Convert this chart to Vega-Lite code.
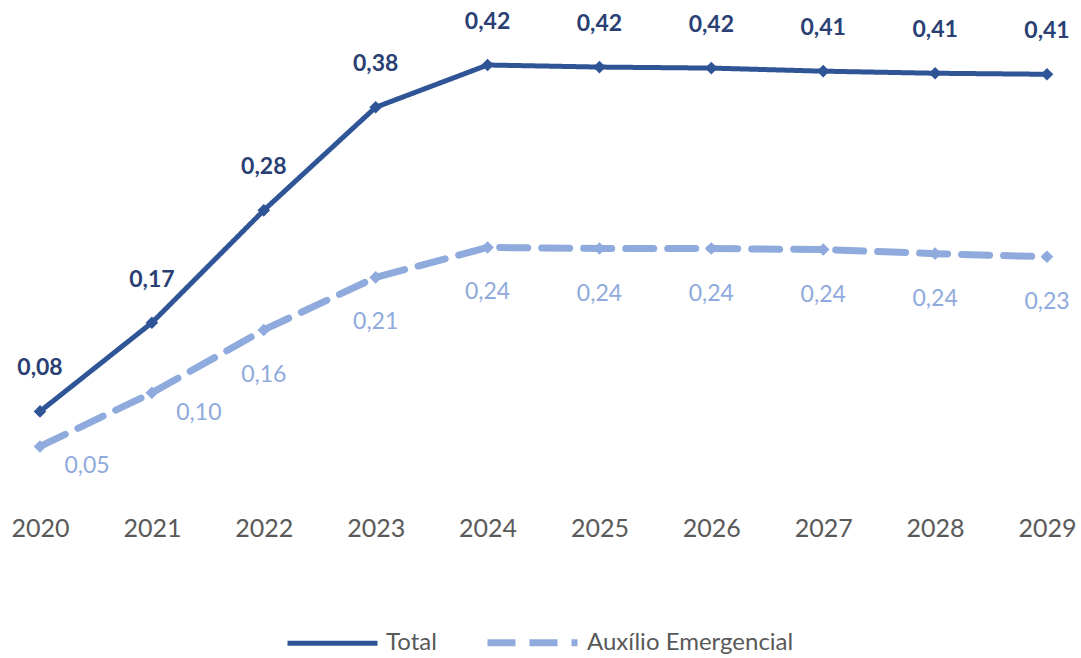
{
  "$schema": "https://vega.github.io/schema/vega-lite/v6.json",
  "width": 1081,
  "height": 500,
  "padding": {"left": 0, "top": 0, "right": 0, "bottom": 158},
  "autosize": "none",
  "background": "white",
  "config": {
    "view": {"stroke": null},
    "font": "Lato",
    "locale": {"number": {"decimal": ",", "thousands": ".", "grouping": [3], "currency": ["R$", ""]}}
  },
  "data": {
    "values": [
      {"ano": "2020", "serie": "Total", "valor": 0.084},
      {"ano": "2021", "serie": "Total", "valor": 0.170},
      {"ano": "2022", "serie": "Total", "valor": 0.279},
      {"ano": "2023", "serie": "Total", "valor": 0.379},
      {"ano": "2024", "serie": "Total", "valor": 0.420},
      {"ano": "2025", "serie": "Total", "valor": 0.418},
      {"ano": "2026", "serie": "Total", "valor": 0.417},
      {"ano": "2027", "serie": "Total", "valor": 0.414},
      {"ano": "2028", "serie": "Total", "valor": 0.412},
      {"ano": "2029", "serie": "Total", "valor": 0.411},
      {"ano": "2020", "serie": "Auxílio Emergencial", "valor": 0.050},
      {"ano": "2021", "serie": "Auxílio Emergencial", "valor": 0.102},
      {"ano": "2022", "serie": "Auxílio Emergencial", "valor": 0.163},
      {"ano": "2023", "serie": "Auxílio Emergencial", "valor": 0.214},
      {"ano": "2024", "serie": "Auxílio Emergencial", "valor": 0.243},
      {"ano": "2025", "serie": "Auxílio Emergencial", "valor": 0.242},
      {"ano": "2026", "serie": "Auxílio Emergencial", "valor": 0.242},
      {"ano": "2027", "serie": "Auxílio Emergencial", "valor": 0.241},
      {"ano": "2028", "serie": "Auxílio Emergencial", "valor": 0.237},
      {"ano": "2029", "serie": "Auxílio Emergencial", "valor": 0.234}
    ]
  },
  "encoding": {
    "x": {
      "field": "ano", "type": "ordinal",
      "scale": {"type": "point", "range": [40, 1047], "padding": 0},
      "axis": {"title": null, "domain": false, "ticks": false, "grid": false, "labelAngle": 0,
               "labelFontSize": 25, "labelColor": "#595959", "labelPadding": 16}
    },
    "y": {
      "field": "valor", "type": "quantitative",
      "scale": {"domain": [0, 0.42], "range": [498, 65], "zero": false, "nice": false},
      "axis": null
    }
  },
  "layer": [
    {
      "mark": {"type": "line", "strokeCap": "round"},
      "encoding": {
        "color": {
          "field": "serie", "type": "nominal",
          "scale": {"domain": ["Total", "Auxílio Emergencial"], "range": ["#2F5597", "#8FAADC"]},
          "legend": {
            "orient": "none", "legendX": 285, "legendY": 594, "direction": "horizontal", "title": null,
            "symbolType": "stroke", "symbolSize": 8100, "symbolStrokeWidth": 6,
            "labelFontSize": 24, "labelColor": "#595959", "columnPadding": 36, "labelOffset": 6, "labelLimit": 400
          }
        },
        "strokeDash": {
          "field": "serie", "type": "nominal",
          "scale": {"domain": ["Total", "Auxílio Emergencial"], "range": [[1, 0], [28, 14]]},
          "legend": {
            "orient": "none", "legendX": 285, "legendY": 594, "direction": "horizontal", "title": null,
            "symbolType": "stroke", "symbolSize": 8100, "symbolStrokeWidth": 6,
            "labelFontSize": 24, "labelColor": "#595959", "columnPadding": 36, "labelOffset": 6, "labelLimit": 400
          }
        },
        "strokeWidth": {
          "field": "serie", "type": "nominal",
          "scale": {"domain": ["Total", "Auxílio Emergencial"], "range": [5, 7]},
          "legend": null
        }
      }
    },
    {
      "mark": {"type": "point", "shape": "diamond", "filled": true, "opacity": 1, "size": 160},
      "encoding": {
        "color": {"field": "serie", "type": "nominal", "legend": null}
      }
    },
    {
      "transform": [{"filter": "datum.serie === 'Total'"}],
      "mark": {"type": "text", "dy": -43, "fontSize": 23, "fontWeight": "bold", "color": "#2A3F73"},
      "encoding": {"text": {"field": "valor", "type": "quantitative", "format": ".2f"}}
    },
    {
      "transform": [{"filter": "datum.serie !== 'Total' && (datum.ano === '2020' || datum.ano === '2021')"}],
      "mark": {"type": "text", "dx": 47, "dy": 20, "fontSize": 23, "color": "#8FAADC"},
      "encoding": {"text": {"field": "valor", "type": "quantitative", "format": ".2f"}}
    },
    {
      "transform": [{"filter": "datum.serie !== 'Total' && datum.ano !== '2020' && datum.ano !== '2021'"}],
      "mark": {"type": "text", "dy": 45, "fontSize": 23, "color": "#8FAADC"},
      "encoding": {"text": {"field": "valor", "type": "quantitative", "format": ".2f"}}
    }
  ]
}
